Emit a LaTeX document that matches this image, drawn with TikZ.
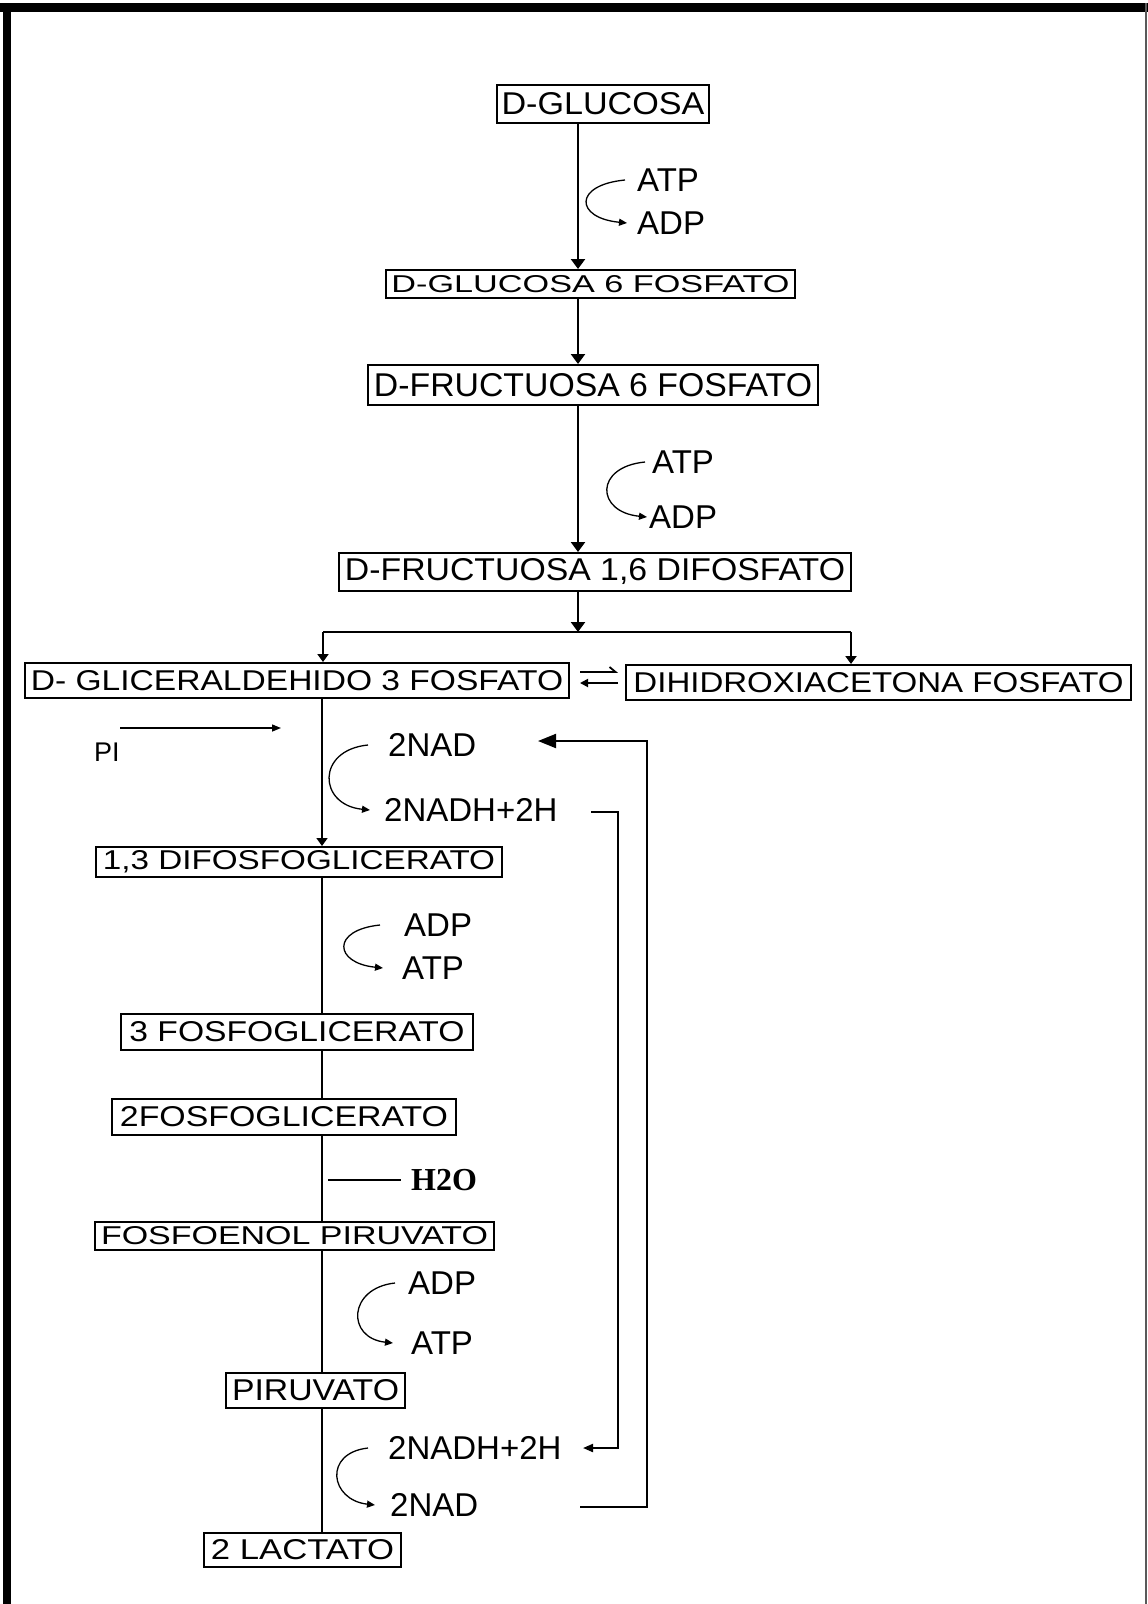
\documentclass[tikz,border=0pt]{standalone}
\usepackage{fontspec}
\setmainfont{Liberation Sans}
\newfontfamily\hserif{Liberation Serif}
\usepackage{graphicx}
\usetikzlibrary{arrows.meta}
\newcommand{\bxt}[3]{\resizebox{#1pt}{#2pt}{#3}}
\begin{document}
\begin{tikzpicture}[x=1pt,y=-1pt,
  box/.style={draw, line width=2pt, inner sep=0pt},
  lbl/.style={anchor=west, inner ysep=0pt, font=\fontsize{33}{36}\selectfont},
  mainln/.style={line width=2.4pt, -{Triangle[length=10pt,width=14pt]}},
  lowln/.style={line width=1.6pt},
  lowarr/.style={line width=1.6pt, -{Triangle[length=8pt,width=11pt]}},
  crv/.style={line width=1.3pt, -{Triangle[length=8pt,width=7pt]}},
  loopln/.style={line width=2pt},
]
\useasboundingbox (0,0) rectangle (1148,1604);
% frame
\fill (0,3) rectangle (1148,12);
\fill (3,3) rectangle (11,1604);
\fill[black!65] (1145,3) rectangle (1147,1604);

% boxes
\node[box, minimum width=212pt, minimum height=38pt] (glu) at (603,104) {\bxt{203}{22}{D-GLUCOSA}};
\node[box, minimum width=409pt, minimum height=28pt] (g6p) at (590.5,284) {\bxt{398}{17}{D-GLUCOSA 6 FOSFATO}};
\node[box, minimum width=450pt, minimum height=40pt] (f6p) at (593,385) {\bxt{438}{23}{D-FRUCTUOSA 6 FOSFATO}};
\node[box, minimum width=512pt, minimum height=38pt] (f16) at (595,572) {\bxt{500}{22}{D-FRUCTUOSA 1,6 DIFOSFATO}};
\node[box, minimum width=544pt, minimum height=35pt] (gap) at (297,680.5) {\bxt{532}{20}{D- GLICERALDEHIDO 3 FOSFATO}};
\node[box, minimum width=505pt, minimum height=35pt] (dhap) at (878.5,682.5) {\bxt{490}{20}{DIHIDROXIACETONA FOSFATO}};
\node[box, minimum width=406pt, minimum height=30pt] (dpg) at (299,862) {\bxt{392}{19}{1,3 DIFOSFOGLICERATO}};
\node[box, minimum width=352pt, minimum height=36pt] (pg3) at (297,1032) {\bxt{335}{20}{3 FOSFOGLICERATO}};
\node[box, minimum width=344pt, minimum height=36pt] (pg2) at (284,1117) {\bxt{328}{20}{2FOSFOGLICERATO}};
\node[box, minimum width=399pt, minimum height=28pt] (pep) at (294.5,1236) {\bxt{387}{18}{FOSFOENOL PIRUVATO}};
\node[box, minimum width=179pt, minimum height=35pt] (pir) at (315.5,1390.5) {\bxt{167}{21}{PIRUVATO}};
\node[box, minimum width=197pt, minimum height=34pt] (lac) at (302.5,1550) {\bxt{183}{20}{2 LACTATO}};

% labels
\node[lbl, inner xsep=12pt] (atp1) at (625,180) {ATP};
\node[lbl, inner xsep=10pt] (adp1) at (627,223) {ADP};
\node[lbl, inner xsep=7pt] (atp2) at (645,462) {ATP};
\node[lbl, inner xsep=2pt] (adp2) at (647,517) {ADP};
\node[lbl, inner xsep=20pt] (nad1) at (368,745) {2NAD};
\node[lbl, inner xsep=14pt] (nadh1) at (370,810) {2NADH+2H};
\node[lbl, inner xsep=24pt] (adp3) at (380,925) {ADP};
\node[lbl, inner xsep=19pt] (atp3) at (383,968) {ATP};
\node[lbl, inner xsep=13pt] (adp4) at (395,1283) {ADP};
\node[lbl, inner xsep=18pt] (atp4) at (393,1343) {ATP};
\node[lbl, inner xsep=20pt] (nadh2) at (368,1448) {2NADH+2H};
\node[lbl, inner xsep=15pt] (nad2) at (375,1505) {2NAD};
\node[anchor=west, inner sep=0pt, font=\fontsize{27}{30}\selectfont] (pi) at (94,752) {PI};
\node[anchor=west, inner xsep=10pt, inner ysep=0pt, font=\hserif\bfseries\fontsize{32}{34}\selectfont] (h2o) at (401,1180) {H2O};

% spine coordinates
\coordinate (sp) at (578,0);
\coordinate (lo) at (322,0);
\coordinate (splitL) at (323,632);
\coordinate (splitR) at (851,632);

% upper main path
\draw[mainln] (sp |- glu.south) -- (sp |- g6p.north);
\draw[mainln] (sp |- g6p.south) -- (sp |- f6p.north);
\draw[mainln] (sp |- f6p.south) -- (sp |- f16.north);
\draw[mainln] (sp |- f16.south) -- (sp |- splitL);
\draw[line width=2.2pt] (splitL) -- (splitR);
\draw[lowarr, line width=2pt] (splitL) -- (splitL |- gap.north);
\draw[lowarr, line width=2pt] (splitR) -- (splitR |- dhap.north);

% equilibrium
\draw[line width=1.8pt, -{Straight Barb[harpoon,length=6pt,width=10pt]}] (580,672) -- (618,672);
\draw[line width=1.8pt, -{Triangle[length=8pt,width=8pt]}] (618,683) -- (580,683);

% lower main path
\draw[lowarr] (lo |- gap.south) -- (lo |- dpg.north);
\draw[lowln] (lo |- dpg.south) -- (lo |- pg3.north);
\draw[lowln] (lo |- pg3.south) -- (lo |- pg2.north);
\draw[lowln] (lo |- pg2.south) -- (lo |- pep.north);
\draw[lowln] (lo |- pep.south) -- (lo |- pir.north);
\draw[lowln] (lo |- pir.south) -- (lo |- lac.north);

% curved side reactions
\draw[crv] (atp1.west) .. controls +(-52,5) and +(-52,-5) .. (adp1.west);
\draw[crv] (atp2.west) .. controls +(-51,5) and +(-51,-5) .. (adp2.west);
\draw[crv] (nad1.west) .. controls +(-52,5) and +(-52,-5) .. (nadh1.west);
\draw[crv] (adp3.west) .. controls +(-49,5) and +(-49,-5) .. (atp3.west);
\draw[crv] (adp4.west) .. controls +(-47,5) and +(-47,-5) .. (atp4.west);
\draw[crv] (nadh2.west) .. controls +(-45,5) and +(-45,-5) .. (nad2.west);

% Pi arrow
\coordinate (pis) at (120,728);
\coordinate (pie) at (281,728);
\draw[line width=1.4pt, -{Triangle[length=9pt,width=7pt]}] (pis) -- (pie);

% H2O line
\coordinate (h2s) at (328,1180);
\draw[line width=1.6pt] (h2s) -- (h2o.west);

% NAD feedback loops
\coordinate (o1) at (580,1507);
\coordinate (o2) at (647,741);
\coordinate (o3) at (538,741);
\draw[loopln, -{Triangle[length=18pt,width=14pt]}] (o1) -| (o2) -- (o3);
\coordinate (i1) at (591,812);
\coordinate (i2) at (618,1448);
\coordinate (i3) at (583,1448);
\draw[loopln, -{Triangle[length=10pt,width=8pt]}] (i1) -| (i2) -- (i3);
\end{tikzpicture}
\end{document}
